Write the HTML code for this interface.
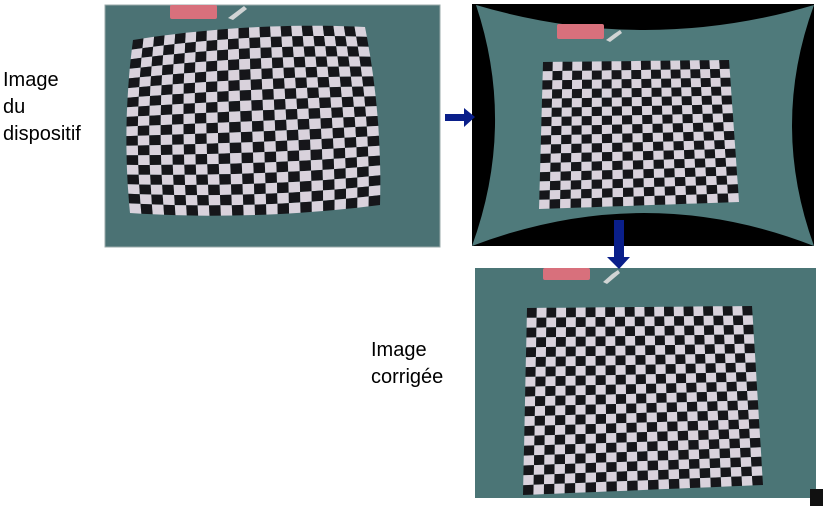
<!DOCTYPE html>
<html><head><meta charset="utf-8"><style>
html,body{margin:0;padding:0;background:#fff;width:823px;height:506px;overflow:hidden}
svg{position:absolute;left:0;top:0}
text{font-family:"Liberation Sans",sans-serif;font-size:20px;fill:#000}
</style></head><body>
<svg id="s" width="823" height="506">
<g>
<rect x="105" y="5" width="335" height="242" fill="#4b7274" stroke="#9aa" stroke-width="1"/>
<rect x="170" y="5" width="47" height="14" rx="2" fill="#d8707c"/>
<polygon points="228,18 236,12 244,6 247,9 233,20" fill="#d0d4d4"/>
<g id="b1"></g>
</g>
<g>
<rect x="472" y="4" width="342" height="242" fill="#000"/>
<path d="M476,5 Q645,55 814,5 Q770,125 814,246 Q645,180 472,246 Q516,125 476,5Z" fill="#4f7a7b"/>
<rect x="557" y="24" width="47" height="15" rx="2" fill="#d8707c"/>
<polygon points="606,40 614,34 620,30 622,33 610,42" fill="#d0d4d4"/>
<g id="b2"></g>
</g>
<g>
<rect x="475" y="268" width="341" height="230" fill="#4b7576"/>
<rect x="543" y="268" width="47" height="12" rx="2" fill="#d8707c"/>
<polygon points="603,282 612,274 618,270 620,273 607,284" fill="#d0d4d4"/>
<g id="b3"></g>
</g>
<polygon points="445,114 464,114 464,108 475,117 464,127 464,121 445,121" fill="#0a1f8a"/>
<polygon points="614,220 624,220 624,257 630,257 619,269 607,257 614,257" fill="#0a1f8a"/>
<rect x="810" y="489" width="13" height="17" fill="#111"/>
<text x="3" y="86">Image</text>
<text x="3" y="113">du</text>
<text x="3" y="140">dispositif</text>
<text x="371" y="356">Image</text>
<text x="371" y="383">corrigée</text>
</svg>
<script>
const NS="http://www.w3.org/2000/svg";
function board(id,c,cols,rows,bx,by){
  const g=document.getElementById(id);
  const P=(u,v)=>{
    let x=(1-u)*(1-v)*c[0][0]+u*(1-v)*c[1][0]+u*v*c[2][0]+(1-u)*v*c[3][0];
    let y=(1-u)*(1-v)*c[0][1]+u*(1-v)*c[1][1]+u*v*c[2][1]+(1-u)*v*c[3][1];
    const a=2*u-1,b=2*v-1;
    x+=bx*a*(1-b*b); y+=by*b*(1-a*a);
    return x.toFixed(1)+","+y.toFixed(1);
  };
  for(let r=0;r<rows;r++)for(let k=0;k<cols;k++){
    const p=document.createElementNS(NS,"polygon");
    const u0=k/cols,u1=(k+1)/cols,v0=r/rows,v1=(r+1)/rows;
    p.setAttribute("points",[P(u0,v0),P(u1,v0),P(u1,v1),P(u0,v1)].join(" "));
    p.setAttribute("fill",(r+k)%2?"#d9d2dc":"#16161a");
    
    
    g.appendChild(p);
  }
}
board("b1",[[133,40],[365,27],[380,205],[130,213]],22,18,5,6);
board("b2",[[543,62],[729,60],[739,202],[539,209]],19,16,0,0);
board("b3",[[527,308],[752,306],[763,485],[523,495]],23,19,0,0);
</script>
</body></html>
